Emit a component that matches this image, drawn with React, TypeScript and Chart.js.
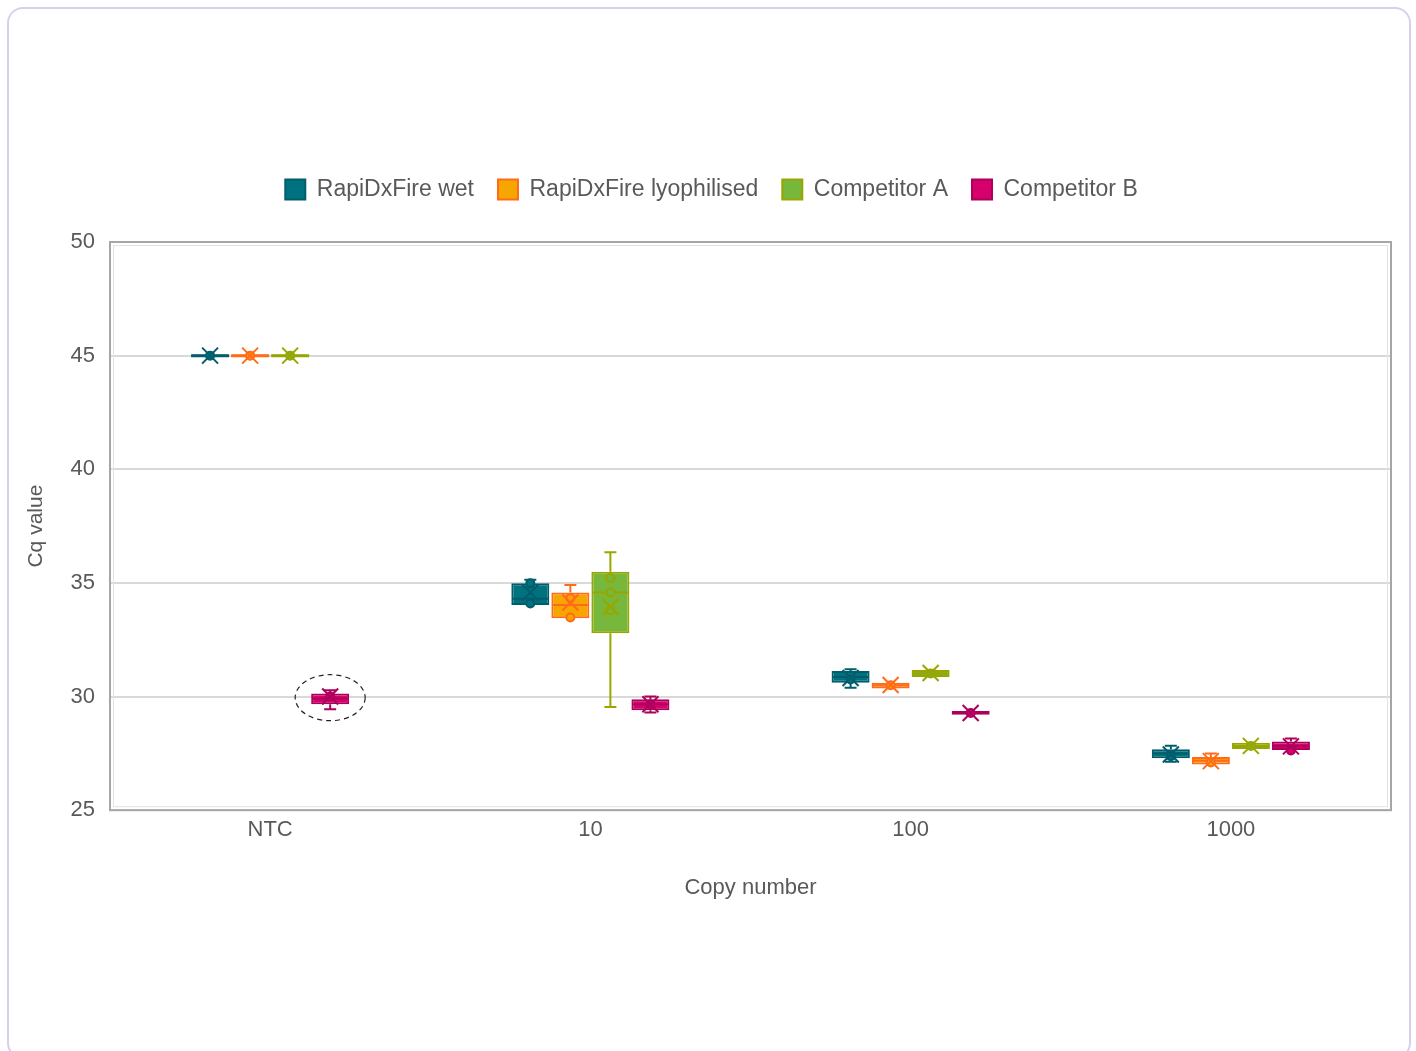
import React, { useEffect, useRef } from 'react';
import { Chart, registerables } from 'chart.js';

Chart.register(...registerables);

const categories = ['NTC', '10', '100', '1000'];
const seriesNames = ['RapiDxFire wet', 'RapiDxFire lyophilised', 'Competitor A', 'Competitor B'];
const yTicks = [25, 30, 35, 40, 45, 50];

// RapiDxFire wet
const wetMin = [45, 34.03, 30.39, 27.13];
const wetQ1 = [45, 34.03, 30.61, 27.29];
const wetMedian = [45, 34.3, 30.86, 27.5];
const wetQ3 = [45, 34.98, 31.13, 27.68];
const wetMax = [45, 35.14, 31.2, 27.84];
const wetMean = [45, 34.58, 30.82, 27.45];
const wetPoints = [[45], [34.98, 34.1], [30.75], [27.38]];

// RapiDxFire lyophilised
const lyoMin = [45, 33.45, 30.36, 27.0];
const lyoQ1 = [45, 33.45, 30.36, 27.01];
const lyoMedian = [45, 34.03, 30.5, 27.18];
const lyoQ3 = [45, 34.58, 30.61, 27.34];
const lyoMax = [45, 34.91, 30.61, 27.5];
const lyoMean = [45, 34.14, 30.51, 27.16];
const lyoPoints = [[45], [34.33, 33.48], [30.5], [27.1]];

// Competitor A
const aMin = [45, 29.54, 30.86, 27.69];
const aQ1 = [45, 32.79, 30.86, 27.69];
const aMedian = [45, 34.58, 31.02, 27.83];
const aQ3 = [45, 35.49, 31.17, 27.97];
const aMax = [45, 36.35, 31.17, 27.97];
const aMean = [45, 33.95, 31.04, 27.83];
const aPoints = [[45], [35.22, 34.58, 33.8], [31.02], [27.83]];

// Competitor B
const bMin = [29.44, 29.3, 29.2, 27.65];
const bQ1 = [29.66, 29.4, 29.2, 27.65];
const bMedian = [29.91, 29.66, 29.28, 27.82];
const bQ3 = [30.14, 29.88, 29.36, 28.02];
const bMax = [30.28, 30.0, 29.36, 28.16];
const bMean = [30.0, 29.66, 29.28, 27.81];
const bPoints = [[30.0], [29.66], [29.28], [27.63]];

const minValues = [wetMin, lyoMin, aMin, bMin];
const q1Values = [wetQ1, lyoQ1, aQ1, bQ1];
const medianValues = [wetMedian, lyoMedian, aMedian, bMedian];
const q3Values = [wetQ3, lyoQ3, aQ3, bQ3];
const maxValues = [wetMax, lyoMax, aMax, bMax];
const meanValues = [wetMean, lyoMean, aMean, bMean];
const pointValues = [wetPoints, lyoPoints, aPoints, bPoints];

const fillColors = ['#00717f', '#f7a600', '#77b73b', '#d6006d'];
const borderColors = ['#005e6c', '#ff6b1a', '#99a600', '#ad005c'];
const textColor = '#595959';
const fontFamily = '"Liberation Sans", Arial, sans-serif';

// highlighted box (series index, category index)
const highlight = { series: 3, category: 0, value: 29.95 };

const boxPlotPlugin = {
  id: 'boxPlotExtras',
  beforeInit(chart: any) {
    const legend = chart.legend;
    if (legend) {
      const fit = legend.fit;
      legend.fit = function () {
        fit.call(legend);
        legend.height += 31;
      };
    }
  },
  afterLayout(chart: any) {
    const legend = chart.legend;
    if (legend) {
      legend.left += 10;
      legend.right += 10;
    }
  },
  beforeDatasetsDraw(chart: any) {
    const { ctx, chartArea } = chart;
    ctx.save();
    ctx.strokeStyle = '#a6a6a6';
    ctx.lineWidth = 2;
    ctx.strokeRect(chartArea.left, chartArea.top, chartArea.right - chartArea.left, chartArea.bottom - chartArea.top);
    ctx.strokeStyle = '#e3e3e3';
    ctx.lineWidth = 1;
    ctx.strokeRect(chartArea.left + 3.5, chartArea.top + 3.5, chartArea.right - chartArea.left - 7, chartArea.bottom - chartArea.top - 7);
    ctx.restore();
  },
  afterDatasetsDraw(chart: any) {
    const { ctx } = chart;
    const y = chart.scales.y;
    ctx.save();
    chart.data.datasets.forEach((_ds: any, di: number) => {
      const meta = chart.getDatasetMeta(di);
      const col = borderColors[di];
      meta.data.forEach((bar: any, i: number) => {
        const x = bar.x;
        const w = bar.width;
        const pMin = y.getPixelForValue(minValues[di][i]);
        const pQ1 = y.getPixelForValue(q1Values[di][i]);
        const pMed = y.getPixelForValue(medianValues[di][i]);
        const pQ3 = y.getPixelForValue(q3Values[di][i]);
        const pMax = y.getPixelForValue(maxValues[di][i]);
        const pMean = y.getPixelForValue(meanValues[di][i]);
        ctx.strokeStyle = col;
        ctx.lineWidth = 2;
        // flat box
        if (Math.abs(pQ3 - pQ1) < 1) {
          ctx.lineWidth = 3;
          ctx.beginPath();
          ctx.moveTo(x - w / 2, pMed);
          ctx.lineTo(x + w / 2, pMed);
          ctx.stroke();
          ctx.lineWidth = 2;
        }
        // whiskers
        const cap = 6;
        ctx.beginPath();
        if (pMax < pQ3 - 0.5) {
          ctx.moveTo(x, pQ3);
          ctx.lineTo(x, pMax);
          ctx.moveTo(x - cap, pMax);
          ctx.lineTo(x + cap, pMax);
        }
        if (pMin > pQ1 + 0.5) {
          ctx.moveTo(x, pQ1);
          ctx.lineTo(x, pMin);
          ctx.moveTo(x - cap, pMin);
          ctx.lineTo(x + cap, pMin);
        }
        ctx.stroke();
        // median
        ctx.beginPath();
        ctx.moveTo(x - w / 2 + 1, pMed);
        ctx.lineTo(x + w / 2 - 1, pMed);
        ctx.stroke();
        // points
        pointValues[di][i].forEach((v: number) => {
          const py = y.getPixelForValue(v);
          ctx.beginPath();
          ctx.arc(x, py, 4, 0, Math.PI * 2);
          ctx.fillStyle = fillColors[di];
          ctx.fill();
          ctx.stroke();
        });
        // mean X
        const m = 8;
        ctx.beginPath();
        ctx.moveTo(x - m, pMean - m);
        ctx.lineTo(x + m, pMean + m);
        ctx.moveTo(x - m, pMean + m);
        ctx.lineTo(x + m, pMean - m);
        ctx.stroke();
      });
    });
    // dashed ellipse annotation
    const hb = chart.getDatasetMeta(highlight.series).data[highlight.category];
    if (hb) {
      ctx.strokeStyle = '#222';
      ctx.lineWidth = 1.2;
      ctx.setLineDash([5, 4]);
      ctx.beginPath();
      ctx.ellipse(hb.x, y.getPixelForValue(highlight.value), 35, 23, 0, 0, Math.PI * 2);
      ctx.stroke();
      ctx.setLineDash([]);
    }
    ctx.restore();
  },
};

export default function App() {
  const canvasRef = useRef<HTMLCanvasElement | null>(null);

  useEffect(() => {
    document.documentElement.style.overflow = 'hidden';
    document.body.style.overflow = 'hidden';
    const canvas = canvasRef.current;
    if (!canvas) return;
    const datasets = seriesNames.map((name, di) => ({
      label: name,
      data: categories.map((_c, i) => [q1Values[di][i], q3Values[di][i]]),
      backgroundColor: fillColors[di],
      borderColor: borderColors[di],
      borderWidth: 2,
      borderSkipped: false,
      categoryPercentage: 0.5,
      barPercentage: 0.95,
    }));
    const chart = new Chart(canvas, {
      type: 'bar',
      data: { labels: categories, datasets: datasets as any },
      plugins: [boxPlotPlugin],
      options: {
        animation: false,
        responsive: false,
        maintainAspectRatio: false,
        layout: { padding: { left: 12, right: 25, top: 154, bottom: 150 } },
        plugins: {
          legend: {
            display: true,
            position: 'top',
            labels: {
              boxWidth: 20,
              boxHeight: 20,
              padding: 24,
              color: textColor,
              font: { family: fontFamily, size: 23 },
            },
          },
          tooltip: { enabled: false },
        },
        scales: {
          x: {
            grid: { display: false, drawTicks: false },
            border: { display: false },
            ticks: { color: textColor, font: { family: fontFamily, size: 22 }, padding: 7 },
            title: {
              display: true,
              text: 'Copy number',
              color: textColor,
              font: { family: fontFamily, size: 22 },
              padding: { top: 24, bottom: 0 },
            },
          },
          y: {
            min: 25,
            max: 50,
            afterBuildTicks: (scale: any) => {
              scale.ticks = yTicks.map((v) => ({ value: v }));
            },
            afterFit: (scale: any) => {
              scale.width = 98;
            },
            grid: { color: '#d9d9d9', lineWidth: 2, drawTicks: false },
            border: { display: false },
            ticks: { color: textColor, font: { family: fontFamily, size: 22 }, padding: 15 },
            title: {
              display: true,
              text: 'Cq value',
              color: textColor,
              font: { family: fontFamily, size: 21 },
              padding: { top: 12, bottom: 4 },
            },
          },
        },
      } as any,
    });
    return () => chart.destroy();
  }, []);

  return (
    <div>
      <div
        style={{
          position: 'absolute',
          left: 7,
          top: 7,
          width: 1404,
          height: 1052,
          border: '2px solid #d8d0ea',
          borderRadius: 16,
          boxSizing: 'border-box',
          background: '#fff',
        }}
      />
      <canvas
        ref={canvasRef}
        width={1416}
        height={1051}
        style={{ position: 'absolute', left: 0, top: 0, width: 1416, height: 1051 }}
      />
    </div>
  );
}
